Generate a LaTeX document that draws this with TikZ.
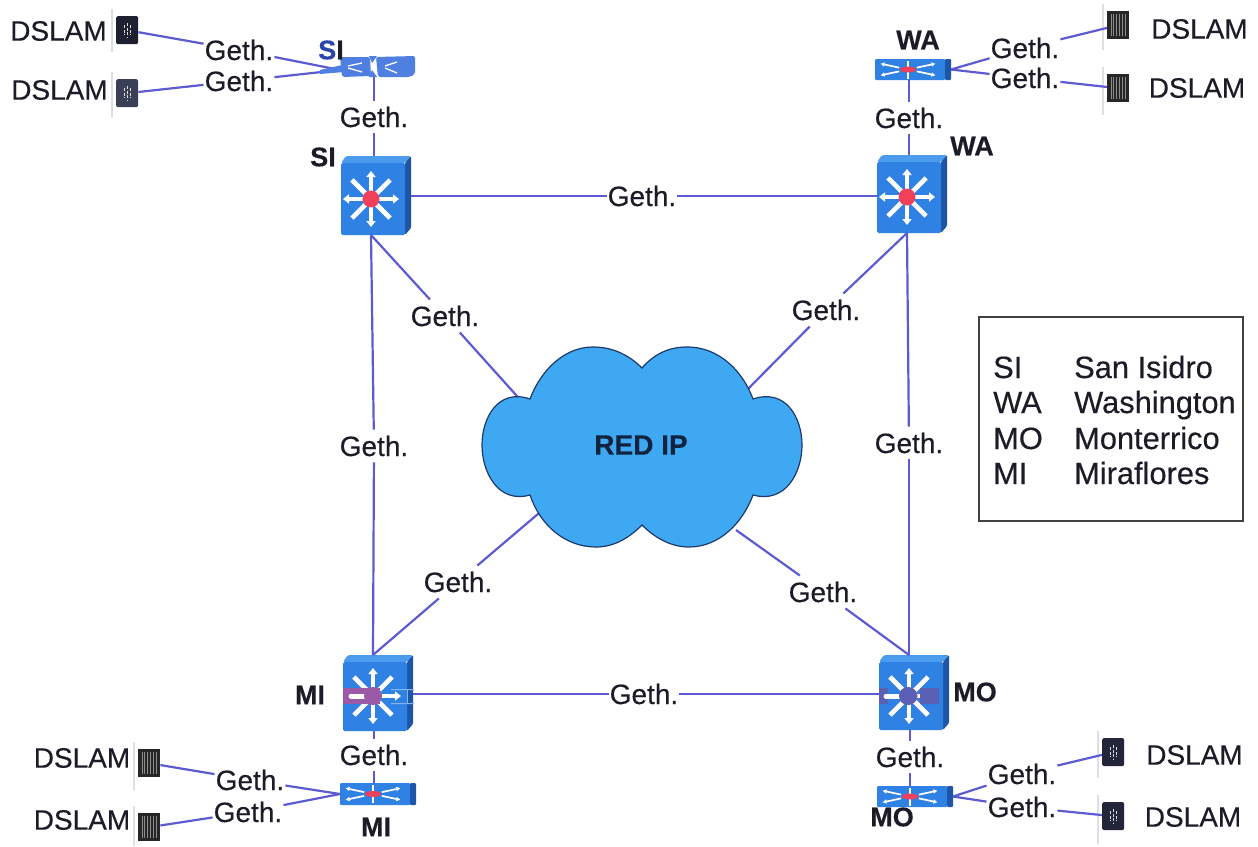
\documentclass[tikz,border=0pt]{standalone}
\usepackage{fontspec}
\setmainfont{Liberation Sans}[FakeBold=0.35]
\usetikzlibrary{arrows.meta,calc}
\definecolor{linkc}{HTML}{5D5BD2}
\definecolor{txtc}{HTML}{1C1C28}
\definecolor{frontc}{HTML}{2F82E4}
\definecolor{topc}{HTML}{4C9CEE}
\definecolor{sidec}{HTML}{1D56A6}
\definecolor{cloudc}{HTML}{3FA8F2}
\definecolor{cloudl}{HTML}{1E3A6A}
\definecolor{redc}{HTML}{F0405A}
\definecolor{barc}{HTML}{DDDFE6}
\definecolor{sisc}{HTML}{4F7FE0}
\definecolor{bandmi}{HTML}{9A5AA8}
\definecolor{bandmo}{HTML}{5B5FB5}
\definecolor{darka}{HTML}{1E2030}
\definecolor{darkb}{HTML}{3A3F55}
\definecolor{darkc}{HTML}{23253A}
\tikzset{
  link/.style={draw=linkc,line width=2.2pt},
  lbl/.style={font=\fontsize{28}{30}\selectfont,text=txtc,inner xsep=1pt,inner ysep=6pt},
  dsl/.style={font=\fontsize{28}{30}\selectfont,text=txtc,inner sep=0pt},
  tag/.style={font=\fontsize{27}{29}\selectfont\bfseries,text=txtc,inner sep=0pt},
  leg/.style={font=\fontsize{30.8}{32}\selectfont,text=txtc,inner sep=0pt,anchor=base west},
  ray/.style={draw=white,line width=3.6pt,-{Triangle[length=6pt,width=9pt]}},
  diag/.style={draw=white,line width=4.6pt},
  thinray/.style={draw=white,line width=1.7pt,-{Triangle[length=4pt,width=4pt]}}
}
% name, left x, top y, total height, dot offset y
\newcommand{\bigsw}[5]{%
\begin{scope}[shift={(#2,#3)}]
  \fill[topc,rounded corners=1.5pt] (0,7) -- (5,0) -- (70,0) -- (64,7) -- cycle;
  \fill[sidec,rounded corners=1pt] (64,7) -- (70,0) -- (70,#4-7) -- (64,#4) -- cycle;
  \fill[frontc,rounded corners=1.5pt] (0,7) rectangle (64,#4);
  \begin{scope}[shift={(30,#5)}]
    \foreach \a in {0,90,180,270}{\draw[ray] (\a:8) -- (\a:28);}
    \foreach \a in {45,135,225,315}{\draw[diag] (\a:8) -- (\a:27);}
    \fill[redc] (0,0) circle (8.5);
  \end{scope}
  \node[name=#1,inner sep=0pt,minimum width=70pt,minimum height=#4pt] at (35,#4/2) {};
  \coordinate (#1t) at (30,0);
  \coordinate (#1b) at (30,#4);
\end{scope}}
% name, left x, top y, height
\newcommand{\smallsw}[4]{%
\begin{scope}[shift={(#2,#3)}]
  \fill[frontc,rounded corners=1pt] (0,0) rectangle (70,#4);
  \fill[sidec,rounded corners=1pt] (70,0) rectangle (76,#4);
  \begin{scope}[shift={(33,#4/2)}]
    \foreach \a in {12,168,192,348}{\draw[thinray] (\a:9) -- (\a:28);}
    \foreach \a in {90,270}{\draw[white,line width=2.2pt] (\a:2) -- (\a:9);}
    \fill[redc] (0,0) ellipse (8 and 3);
  \end{scope}
  \node[name=#1,inner sep=0pt,minimum width=76pt,minimum height=#4pt] at (38,#4/2) {};
  \coordinate (#1t) at (33,0);
  \coordinate (#1b) at (33,#4);
  \coordinate (#1l) at (0,#4/2);
  \coordinate (#1r) at (76,#4/2);
\end{scope}}
% name, left x, top y, bar bottom
\newcommand{\dslamstr}[4]{%
\begin{scope}[shift={(#2,#3)}]
  \fill[barc] (-5,-7) rectangle (-3,#4);
  \node[name=#1,fill=black!85,inner sep=0pt,minimum width=22pt,minimum height=28pt,anchor=north west] at (0,0) {};
  \foreach \x in {4,6.8,...,19}{\draw[black!45,line width=.8pt] (\x,3) -- (\x,25);}
\end{scope}}
\newcommand{\dslamdark}[5]{%
\begin{scope}[shift={(#2,#3)}]
  \fill[barc] (-5,-7) rectangle (-3,#4);
  \node[name=#1,fill=#5,rounded corners=1.5pt,inner sep=0pt,minimum width=22pt,minimum height=28pt,anchor=north west] at (0,0) {};
  \foreach \x/\ya/\yb in {8/9/19,11/7/21,14/9/19}{\draw[white!75!gray,line width=.9pt,dash pattern=on 3pt off 1.5pt] (\x,\ya) -- (\x,\yb);}
\end{scope}}
\begin{document}
\begin{tikzpicture}[x=1pt,y=-1pt]
\useasboundingbox (0,0) rectangle (1258,846);
\fill[white] (0,0) rectangle (1258,846);
% switches
\bigsw{si}{341}{156}{79}{43}
\bigsw{wa}{877}{155}{78}{42}
\bigsw{mi}{343}{655}{76}{41}
\bigsw{mo}{879}{655}{75}{41}
\smallsw{was}{875}{59}{21}
\smallsw{mis}{340}{783}{22}
\smallsw{mos}{877}{786}{21}
% distorted small SI switch
\begin{scope}[shift={(340,56)}]
  \fill[sisc,rounded corners=2pt] (0,1) -- (30,1) -- (31,20) -- (2,21) -- cycle;
  \fill[sisc,rounded corners=2pt] (36,1) -- (75,0) -- (75,18) -- (70,21) -- (38,21) -- cycle;
  \fill[sisc] (29,0) -- (37,0) -- (32,7) -- cycle (29,21) -- (37,21) -- (32,14) -- cycle;
  \draw[white,line width=1.3pt] (8,10) -- (22,7) (8,12) -- (22,16) (45,10) -- (57,6) (45,12) -- (57,17);
  \node[name=sis,inner sep=0pt,minimum width=75pt,minimum height=21pt] at (37,10.5) {};
  \coordinate (sist) at (33,0);
  \coordinate (sisb) at (33,21);
  \coordinate (sisl) at (0,14);
\end{scope}
% bands across MI and MO
\fill[white!40!frontc] (391,689) rectangle (414,690) (391,703) rectangle (414,704);
\fill[white!40!frontc] (407,689) rectangle (408,704);
\fill[bandmi] (343,688) rectangle (380,704);
\draw[white,line width=5pt,line cap=round] (351,696) -- (366,696);
\fill[bandmi] (373,696) circle (9);
\fill[bandmo] (879,688) rectangle (888,704) (920,688) rectangle (939,704);
\draw[white,line width=5pt,line cap=round] (886,696) -- (900,696);
\fill[bandmo] (908,696) circle (9);
% DSLAMs
\dslamdark{d1}{116}{16}{36}{darka}
\dslamdark{d2}{116}{79}{39}{darkb}
\dslamstr{d3}{1107}{11}{39}
\dslamstr{d4}{1107}{74}{41}
\dslamstr{d5}{138}{749}{41}
\dslamstr{d6}{138}{813}{33}
\dslamdark{d7}{1102}{738}{40}{darkc}
\dslamdark{d8}{1102}{802}{42}{darkc}
% DSLAM texts
\node[dsl,name=t1] at (58.5,31) {DSLAM};
\node[dsl,name=t2] at (59.5,90) {DSLAM};
\node[dsl,name=t3] at (1199.5,29) {DSLAM};
\node[dsl,name=t4] at (1197,88) {DSLAM};
\node[dsl,name=t5] at (82,758) {DSLAM};
\node[dsl,name=t6] at (82,820) {DSLAM};
\node[dsl,name=t7] at (1194.5,755) {DSLAM};
\node[dsl,name=t8] at (1193,817) {DSLAM};
% Geth labels
\node[lbl] (g1) at (239,50) {Geth.};
\node[lbl] (g2) at (239,81) {Geth.};
\node[lbl] (g3) at (374,117) {Geth.};
\node[lbl] (g4) at (1025,48) {Geth.};
\node[lbl] (g5) at (1025,78) {Geth.};
\node[lbl] (g6) at (909,118) {Geth.};
\node[lbl] (g7) at (642,196) {Geth.};
\node[lbl] (g8) at (445,316) {Geth.};
\node[lbl] (g9) at (826,310) {Geth.};
\node[lbl] (g10) at (374,446) {Geth.};
\node[lbl] (g11) at (909,443) {Geth.};
\node[lbl] (g12) at (458,582) {Geth.};
\node[lbl] (g13) at (823,592) {Geth.};
\node[lbl] (g14) at (644,694) {Geth.};
\node[lbl] (g15) at (374,755) {Geth.};
\node[lbl] (g16) at (910,757) {Geth.};
\node[lbl] (g17) at (250,780) {Geth.};
\node[lbl] (g18) at (248,812) {Geth.};
\node[lbl] (g19) at (1022,774) {Geth.};
\node[lbl] (g20) at (1022,807) {Geth.};
% Cloud anchors
\coordinate (c1) at (525,405);
\coordinate (c2) at (745,392);
\coordinate (c3) at (545,508);
\coordinate (c4) at (736,530);
% connectors
\draw[link] (d1) -- (g1);
\draw[link] (g1) -- (sisl);
\draw[link] (d2) -- (g2);
\draw[link] (g2) -- (sisl);
\draw[link] (g3 |- sisb) -- (g3);
\draw[link] (g3) -- (g3 |- sit);
\draw[link] (wasr) -- (g4);
\draw[link] (g4) -- (d3);
\draw[link] (wasr) -- (g5);
\draw[link] (g5) -- (d4);
\draw[link] (g6 |- wasb) -- (g6);
\draw[link] (g6) -- (g6 |- wat);
\draw[link] (si.east |- g7) -- (g7);
\draw[link] (g7) -- (wa.west |- g7);
\draw[link] (sib) -- (g8);
\draw[link] (g8) -- (c1);
\draw[link] (wab) -- (g9);
\draw[link] (g9) -- (c2);
\draw[link] (sib) -- (g10);
\draw[link] (g10) -- (mit);
\draw[link] (wab) -- (g11);
\draw[link] (g11) -- (mot);
\draw[link] (mit) -- (g12);
\draw[link] (g12) -- (c3);
\draw[link] (mot) -- (g13);
\draw[link] (g13) -- (c4);
\draw[link] (mi.east |- g14) -- (g14);
\draw[link] (g14) -- (mo.west |- g14);
\draw[link] (g15 |- mib) -- (g15);
\draw[link] (g15) -- (g15 |- mist);
\draw[link] (g16 |- mob) -- (g16);
\draw[link] (g16) -- (g16 |- most);
\draw[link] (d5) -- (g17);
\draw[link] (g17) -- (misl);
\draw[link] (d6) -- (g18);
\draw[link] (g18) -- (misl);
\draw[link] (mosr) -- (g19);
\draw[link] (g19) -- (d7);
\draw[link] (mosr) -- (g20);
\draw[link] (g20) -- (d8);
% wing of the distorted SI switch, over its links
\fill[sisc] (320,70) -- (342,65) -- (344,72) -- (320,74) -- cycle;
% Cloud
\path[fill=cloudc,draw=cloudl,line width=1.2pt]
  (642,368) .. controls (627,353) and (610,347) .. (593,347)
  .. controls (563,347) and (540,372) .. (530,399)
  .. controls (498,388) and (482,418) .. (482,445)
  .. controls (482,472) and (498,504) .. (530,495)
  .. controls (540,525) and (565,547) .. (596,547)
  .. controls (615,547) and (630,537) .. (642,525)
  .. controls (654,537) and (670,547) .. (689,547)
  .. controls (720,547) and (743,522) .. (753,495)
  .. controls (786,504) and (802,472) .. (802,445)
  .. controls (802,418) and (786,388) .. (753,399)
  .. controls (743,372) and (720,347) .. (687,347)
  .. controls (670,347) and (655,353) .. (642,368) -- cycle;
\node[font=\fontsize{28}{30}\selectfont\bfseries,text=cloudl!60!black,inner sep=0pt,name=redip] at (641,445) {RED IP};
% tags
\node[tag,name=s1] at (331,50) {\textcolor[HTML]{2B45A8}{S}I};
\node[tag,name=s2] at (323,157) {SI};
\node[tag,name=s3] at (918,40) {WA};
\node[tag,name=s4] at (972,146) {WA};
\node[tag,name=s5] at (310,695) {MI};
\node[tag,name=s6] at (376,827) {MI};
\node[tag,name=s7] at (975,692) {MO};
\node[tag,name=s8] at (892,817) {MO};
% legend
\node[name=legbox,draw=black!75,line width=2pt,inner sep=0pt,minimum width=264pt,minimum height=204pt] at (1111,419) {};
\node[leg,name=l1] at (993,378) {SI};
\node[leg,name=l2] at (993,413) {WA};
\node[leg,name=l3] at (993,449) {MO};
\node[leg,name=l4] at (993,484) {MI};
\node[leg,name=l5] at (1074,378) {San Isidro};
\node[leg,name=l6] at (1074,413) {Washington};
\node[leg,name=l7] at (1074,449) {Monterrico};
\node[leg,name=l8] at (1074,484) {Miraflores};
\end{tikzpicture}
\end{document}
